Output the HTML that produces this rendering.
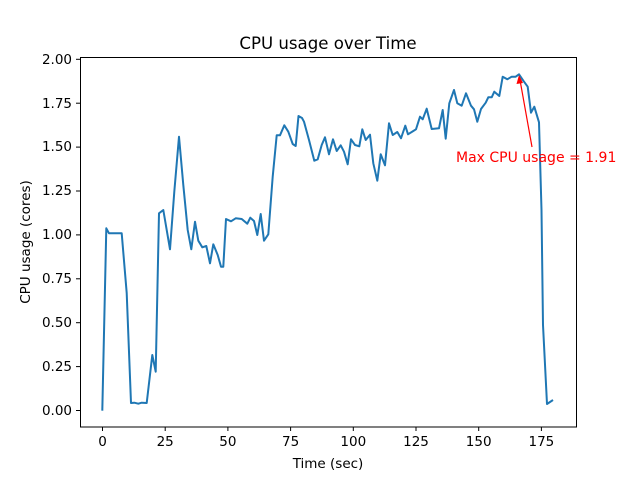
<!DOCTYPE html>
<html><head><style>body{margin:0;background:#fff}svg{display:block}text{font-family:"DejaVu Sans","Liberation Sans",sans-serif;font-size:13.5px;fill:#000}</style></head>
<body>
<svg width="640" height="480" viewBox="0 0 640 480" xmlns="http://www.w3.org/2000/svg">
<rect width="640" height="480" fill="#fff"/>
<text x="328" y="49" text-anchor="middle" style="font-size:16.6px">CPU usage over Time</text>
<polyline fill="none" stroke="#1f77b4" stroke-width="2" stroke-linejoin="round" points="102.3,410.7 106.3,228.3 109,233.3 121.7,233.3 126.7,293 131,403 134.3,402.7 138.3,403.7 141.7,402.7 146.7,403 152.3,355 155.7,371.7 159,213.3 163.3,210 170,249.3 174.3,191.7 179,136.7 183.3,185 187.7,230 191.3,249.3 195,221.7 198.3,240.7 202.3,247.3 206.3,246 210,263.3 213.3,244.3 217.7,255 221,266.7 223.3,266.7 226,219 231,221.3 235.7,218.3 241.7,219 247.3,223.7 250.3,217.7 254,221 257.3,235 260.7,214 264,240.7 268.3,234.3 272.7,176.7 276.7,135.3 280,135.3 284.3,125.3 288.3,131.7 292.7,144 295.7,146 298.5,116 302,118 304,121.7 309,140 314.3,160.7 317.7,159.3 321.7,145 325,137.3 329,154.3 333,139.3 336.7,151 340.7,145.3 344,151.7 347.7,164.3 351,139.3 355,145 359.3,146.3 362.3,129.3 365.7,140 370,134.7 373.3,163.3 377.3,180.7 380.7,154.3 385,165.3 389,123.3 392.7,135 397.3,132 401,138.3 405.3,125.7 408,134.3 413.3,131 416,129.3 420,116.7 422.7,119.3 426.7,108.7 431.7,129 439,128.3 442.7,110 445.7,138.7 449.3,103.3 454,90 457.3,103.3 461.7,105.7 466,93.3 471,105.7 474,109.3 477.3,121.7 481,109 485.7,102.7 488.3,97.3 491.7,97.3 494.3,91.7 499.3,96 502.7,76.7 507.3,79.3 511.7,76.7 515.7,76.7 519,74.3 523.3,80.7 527.7,86.7 531,112.7 534.3,106.7 539,122.3 541.5,210 543,325 547,404 553,400"/>
<rect x="80.5" y="57.5" width="496" height="369.5" fill="none" stroke="#000" stroke-width="1"/>
<g stroke="#000">
<line x1="102.5" y1="427" x2="102.5" y2="431"/><line x1="165.2" y1="427" x2="165.2" y2="431"/><line x1="227.9" y1="427" x2="227.9" y2="431"/><line x1="290.6" y1="427" x2="290.6" y2="431"/><line x1="353.3" y1="427" x2="353.3" y2="431"/><line x1="416" y1="427" x2="416" y2="431"/><line x1="478.7" y1="427" x2="478.7" y2="431"/><line x1="541.4" y1="427" x2="541.4" y2="431"/>
<line x1="76" y1="410.5" x2="80" y2="410.5"/><line x1="76" y1="366.6" x2="80" y2="366.6"/><line x1="76" y1="322.7" x2="80" y2="322.7"/><line x1="76" y1="278.8" x2="80" y2="278.8"/><line x1="76" y1="234.9" x2="80" y2="234.9"/><line x1="76" y1="191" x2="80" y2="191"/><line x1="76" y1="147.1" x2="80" y2="147.1"/><line x1="76" y1="103.2" x2="80" y2="103.2"/><line x1="76" y1="59.3" x2="80" y2="59.3"/>
</g>
<g text-anchor="middle">
<text x="102.5" y="446">0</text><text x="165.2" y="446">25</text><text x="227.9" y="446">50</text><text x="290.6" y="446">75</text><text x="353.3" y="446">100</text><text x="416" y="446">125</text><text x="478.7" y="446">150</text><text x="541.4" y="446">175</text>
</g>
<g text-anchor="end">
<text x="72" y="415">0.00</text><text x="72" y="371">0.25</text><text x="72" y="327">0.50</text><text x="72" y="283">0.75</text><text x="72" y="239">1.00</text><text x="72" y="195">1.25</text><text x="72" y="151">1.50</text><text x="72" y="108">1.75</text><text x="72" y="64">2.00</text>
</g>
<text x="328" y="468" text-anchor="middle">Time (sec)</text>
<text transform="translate(30,242) rotate(-90)" text-anchor="middle">CPU usage (cores)</text>
<line x1="532" y1="147" x2="520" y2="80" stroke="red" stroke-width="1.2"/>
<polygon points="519,75 516.5,84 523,83" fill="red"/>
<text x="456" y="162" style="fill:red;font-size:14px">Max CPU usage = 1.91</text>
</svg>
</body></html>
